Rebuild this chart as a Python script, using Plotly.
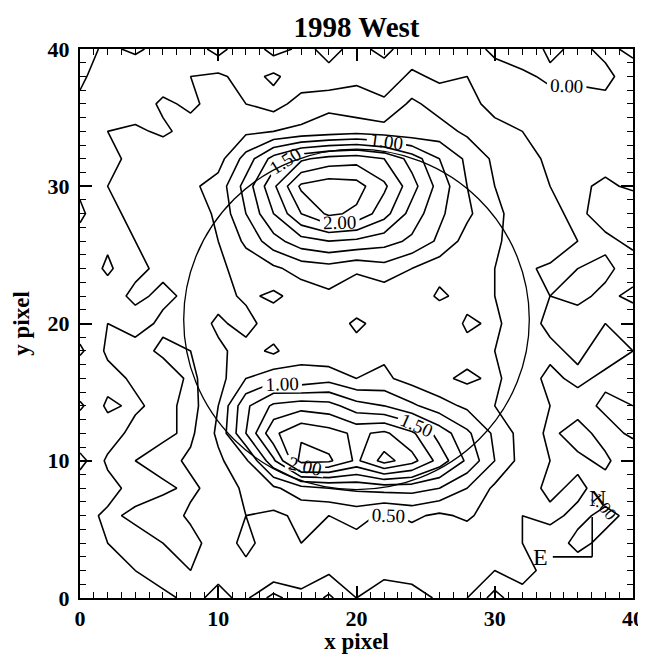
import plotly.graph_objects as go

# grid coordinates (pixels)
x_pix = list(range(0, 41, 2))
y_pix = list(range(0, 41, 2))

# intensity rows, one per y value (x = 0,2,...,40)
row_40 = [-0.10, 0.05, -0.05, 0.10, 0.15, -0.10, 0.20, -0.10, 0.05, -0.05, 0.05, -0.05, 0.10, 0.05, 0.10, -0.05, -0.15, 0.05, -0.05, 0.05, -0.05]
row_38 = [-0.05, 0.15, 0.20, 0.10, 0.25, 0.30, 0.15, 0.30, 0.10, 0.05, 0.20, 0.10, 0.30, 0.20, 0.25, 0.10, 0.05, -0.05, -0.10, -0.05, 0.10]
row_36 = [0.05, 0.20, 0.10, 0.30, 0.20, 0.35, 0.25, 0.15, 0.35, 0.45, 0.35, 0.30, 0.55, 0.40, 0.30, 0.20, 0.15, 0.10, 0.20, 0.05, 0.20]
row_34 = [0.10, 0.25, 0.30, 0.20, 0.35, 0.30, 0.45, 0.50, 0.55, 0.60, 0.65, 0.60, 0.55, 0.60, 0.45, 0.30, 0.25, 0.20, 0.10, 0.20, 0.15]
row_32 = [0.20, 0.15, 0.35, 0.45, 0.30, 0.40, 0.85, 1.35, 1.70, 1.85, 1.90, 1.75, 1.40, 1.00, 0.70, 0.45, 0.35, 0.20, 0.25, 0.15, 0.25]
row_30 = [0.05, 0.25, 0.40, 0.30, 0.45, 0.60, 1.10, 1.70, 2.30, 2.40, 2.35, 2.05, 1.60, 1.15, 0.75, 0.50, 0.30, 0.25, 0.20, 0.30, 0.20]
row_28 = [-0.05, 0.20, 0.30, 0.45, 0.35, 0.55, 1.00, 1.50, 2.00, 2.30, 2.20, 1.85, 1.40, 1.05, 0.80, 0.55, 0.40, 0.30, 0.20, 0.35, 0.50]
row_26 = [0.10, 0.05, 0.25, 0.35, 0.40, 0.50, 0.80, 1.15, 1.40, 1.50, 1.45, 1.35, 1.20, 0.95, 0.65, 0.55, 0.35, 0.45, 0.25, 0.20, 0.30]
row_24 = [0.20, -0.05, 0.20, 0.30, 0.25, 0.45, 0.60, 0.70, 0.85, 0.90, 0.80, 0.90, 0.75, 0.60, 0.55, 0.50, 0.30, 0.20, 0.25, 0.30, 0.15]
row_22 = [0.05, 0.15, 0.30, 0.20, 0.30, 0.40, 0.55, 0.45, 0.60, 0.70, 0.55, 0.60, 0.70, 0.45, 0.60, 0.50, 0.30, 0.25, 0.30, 0.20, 0.30]
row_20 = [0.15, 0.25, 0.15, 0.30, 0.35, 0.55, 0.40, 0.65, 0.50, 0.60, 0.80, 0.65, 0.55, 0.75, 0.45, 0.55, 0.35, 0.20, 0.15, 0.25, 0.10]
row_18 = [-0.05, 0.30, 0.35, 0.20, 0.25, 0.45, 0.60, 0.45, 0.70, 0.55, 0.65, 0.70, 0.50, 0.55, 0.60, 0.50, 0.25, 0.30, 0.20, 0.35, 0.25]
row_16 = [0.25, 0.15, 0.30, 0.40, 0.20, 0.40, 0.75, 0.90, 0.80, 0.90, 0.75, 0.80, 0.65, 0.55, 0.45, 0.55, 0.35, 0.20, 0.30, 0.20, 0.05]
row_14 = [-0.05, 0.30, 0.20, 0.35, 0.15, 0.50, 1.20, 1.55, 1.65, 1.60, 1.35, 1.25, 1.05, 0.85, 0.70, 0.50, 0.30, 0.25, 0.15, 0.30, 0.25]
row_12 = [0.25, 0.10, 0.35, 0.30, 0.20, 0.55, 1.25, 1.95, 2.20, 2.10, 1.95, 2.05, 1.80, 1.40, 1.05, 0.70, 0.40, 0.20, 0.35, 0.15, 0.30]
row_10 = [-0.10, 0.30, 0.25, 0.15, 0.30, 0.45, 0.70, 1.45, 2.35, 2.30, 1.95, 2.35, 2.10, 1.65, 1.20, 0.75, 0.40, 0.25, 0.20, 0.30, 0.05]
row_08 = [0.20, 0.15, 0.35, 0.30, 0.20, 0.35, 0.55, 0.70, 0.90, 1.00, 1.05, 1.10, 1.10, 1.00, 0.75, 0.45, 0.35, 0.20, 0.30, 0.15, 0.25]
row_06 = [0.15, 0.30, 0.20, 0.10, 0.30, 0.40, 0.50, 0.45, 0.55, 0.50, 0.60, 0.45, 0.55, 0.45, 0.55, 0.35, 0.25, 0.30, 0.20, 0.30, 0.20]
row_04 = [0.10, 0.25, 0.35, 0.25, 0.15, 0.40, 0.55, 0.40, 0.50, 0.35, 0.40, 0.50, 0.35, 0.45, 0.30, 0.40, 0.25, 0.15, 0.30, 0.20, 0.25]
row_02 = [0.20, 0.15, 0.25, 0.35, 0.25, 0.30, 0.45, 0.50, 0.35, 0.30, 0.45, 0.30, 0.40, 0.30, 0.35, 0.25, 0.30, 0.20, 0.15, 0.25, 0.20]
row_00 = [0.15, 0.20, 0.25, 0.20, 0.30, 0.20, 0.30, -0.10, 0.20, -0.05, 0.25, 0.15, 0.10, 0.30, 0.25, -0.10, 0.20, 0.15, 0.25, 0.20, 0.15]

z = [row_00, row_02, row_04, row_06, row_08, row_10, row_12, row_14, row_16, row_18, row_20,
     row_22, row_24, row_26, row_28, row_30, row_32, row_34, row_36, row_38, row_40]

x_ticks = [0, 10, 20, 30, 40]
y_ticks = [0, 10, 20, 30, 40]

# aperture circle
circ_cx, circ_cy, circ_rx, circ_ry = 20.0, 20.3, 12.5, 12.4

SERIF = "Liberation Serif, Times New Roman, serif"

fig = go.Figure()

# labelled levels (every other)
fig.add_trace(go.Contour(
    x=x_pix, y=y_pix, z=z,
    contours=dict(coloring="lines", start=0.0, end=2.0, size=0.5,
                  showlabels=True, labelformat=".2f",
                  labelfont=dict(family=SERIF, size=19, color="black")),
    line=dict(color="black", width=1.6, smoothing=0),
    colorscale=[[0, "black"], [1, "black"]],
    showscale=False, hoverinfo="skip",
))
# unlabelled intermediate levels
fig.add_trace(go.Contour(
    x=x_pix, y=y_pix, z=z,
    contours=dict(coloring="lines", start=0.25, end=2.25, size=0.5, showlabels=False),
    line=dict(color="black", width=1.6, smoothing=0),
    colorscale=[[0, "black"], [1, "black"]],
    showscale=False, hoverinfo="skip",
))

shapes = [
    dict(type="circle", xref="x", yref="y",
         x0=circ_cx - circ_rx, x1=circ_cx + circ_rx,
         y0=circ_cy - circ_ry, y1=circ_cy + circ_ry,
         line=dict(color="black", width=1.3)),
    # compass
    dict(type="line", xref="x", yref="y", x0=34.2, x1=37.05, y0=3.0, y1=3.0,
         line=dict(color="black", width=1.6)),
    dict(type="line", xref="x", yref="y", x0=37.05, x1=37.05, y0=3.0, y1=5.9,
         line=dict(color="black", width=1.6)),
]

annotations = [
    dict(x=33.3, y=3.0, xref="x", yref="y", text="E", showarrow=False,
         font=dict(family=SERIF, size=24, color="black")),
    dict(x=37.4, y=7.3, xref="x", yref="y", text="N", showarrow=False,
         font=dict(family=SERIF, size=24, color="black")),
    dict(x=37.9, y=6.7, xref="x", yref="y", text="1.00", showarrow=False, textangle=50,
         font=dict(family=SERIF, size=17, color="black")),
]

axis_common = dict(
    showgrid=False, zeroline=False, showline=True, linecolor="black", linewidth=2,
    mirror="ticks", ticks="inside", ticklen=12, tickwidth=1.5, tickcolor="black",
    minor=dict(dtick=1, ticks="inside", ticklen=6, tickwidth=1.2, tickcolor="black"),
    tickfont=dict(family=SERIF, size=22, color="black", weight="bold"),
    ticklabeloverflow="allow",
    automargin=False,
)

# the page body adds an 8px offset, so the figure is smaller than the window
fig.update_layout(
    width=638, height=646,
    margin=dict(l=72, r=13, t=41, b=56),
    paper_bgcolor="white", plot_bgcolor="white",
    showlegend=False,
    title=dict(text="1998 West", x=0.5, xanchor="center", xref="paper",
               yref="container", y=0.987, yanchor="top",
               font=dict(family=SERIF, size=29, color="black", weight="bold")),
    xaxis=dict(range=[0, 40], tickvals=x_ticks, **axis_common,
               title=dict(text="x pixel", standoff=2,
                          font=dict(family=SERIF, size=23, color="black", weight="bold"))),
    yaxis=dict(range=[0, 40], tickvals=y_ticks, ticklabelstandoff=4, **axis_common,
               title=dict(text="y pixel", standoff=12,
                          font=dict(family=SERIF, size=23, color="black", weight="bold"))),
    shapes=shapes,
    annotations=annotations,
)

fig.write_html("out.html")
